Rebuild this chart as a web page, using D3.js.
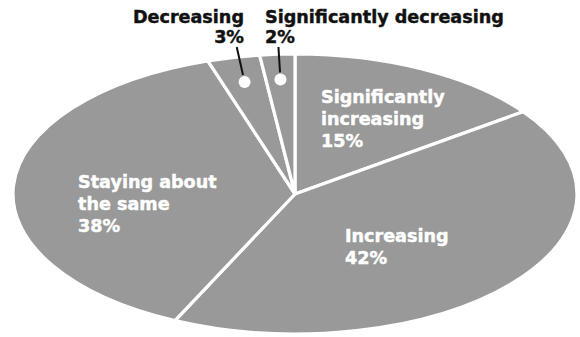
<!DOCTYPE html>
<html>
<head>
<meta charset="utf-8">
<script src="https://cdn.jsdelivr.net/npm/d3@7/dist/d3.min.js"></script>
<style>
  html, body { margin: 0; padding: 0; background: #fff; }
  svg { display: block; }
  text { font-family: "DejaVu Sans", sans-serif; font-weight: bold; font-size: 17.6px; stroke-width: 0.45px; stroke-linejoin: round; }
</style>
</head>
<body>
<svg id="chart" width="580" height="337"></svg>
<script>
// Survey shares, clockwise from 12 o'clock
const categories = ["Significantly increasing", "Increasing", "Staying about the same", "Decreasing", "Significantly decreasing"];
const values = [15, 42, 38, 3, 2];
const labelLines = [
  ["Significantly", "increasing", "15%"],
  ["Increasing", "42%"],
  ["Staying about", "the same", "38%"],
  ["Decreasing", "3%"],
  ["Significantly decreasing", "2%"]
];

const W = 580, H = 337;
const cx = 295, cy = 194;
const rx = 282, ry = 140;
const squash = ry / rx;

const svg = d3.select("#chart");

const data = categories.map((c, i) => ({ category: c, value: values[i], lines: labelLines[i] }));
const pie = d3.pie().sort(null).value(d => d.value);
const arcs = pie(data);
const arc = d3.arc().innerRadius(0).outerRadius(rx);

// Pie drawn as a circle, then flattened into an ellipse
const pieG = svg.append("g")
  .attr("transform", `translate(${cx},${cy}) scale(1,${squash})`);

pieG.selectAll("path.slice")
  .data(arcs)
  .join("path")
  .attr("class", "slice")
  .attr("d", arc)
  .attr("fill", "#999999")
  .attr("stroke", "#ffffff")
  .attr("stroke-width", 3.2)
  .attr("stroke-linejoin", "round")
  .attr("vector-effect", "non-scaling-stroke");

// Screen position of a point at fraction f of the radius along angle a
const pt = (a, f) => [cx + f * rx * Math.sin(a), cy - f * ry * Math.cos(a)];

// Labels inside the large slices
const inside = [
  { i: 0, x: 321, y: 103 },
  { i: 1, x: 345, y: 242 },
  { i: 2, x: 78, y: 188 }
];
inside.forEach(p => {
  const t = svg.append("text").attr("fill", "#ffffff").attr("stroke", "#ffffff").attr("x", p.x).attr("y", p.y);
  arcs[p.i].data.lines.forEach((ln, k) => {
    t.append("tspan").attr("x", p.x).attr("dy", k === 0 ? 0 : 21.8).text(ln);
  });
});

// Small slices: dot inside the slice, leader line up to the label
const outside = [
  { i: 3, anchor: "end", x: 244 },
  { i: 4, anchor: "start", x: 265 }
];
const dotR = 6;
const lineTopY = 47;
outside.forEach(p => {
  const a = arcs[p.i];
  const mid = (a.startAngle + a.endAngle) / 2;
  const [dx, dy] = pt(mid, 0.82);
  const ux = Math.sin(mid), uy = -Math.cos(mid);
  const y0 = dy - dotR - 1;
  const x0 = dx + ux * (y0 - dy) / uy;
  const x1 = dx + ux * (lineTopY - dy) / uy;
  svg.append("line")
    .attr("x1", x0).attr("y1", y0)
    .attr("x2", x1).attr("y2", lineTopY)
    .attr("stroke", "#111").attr("stroke-width", 2);
  svg.append("circle")
    .attr("cx", dx).attr("cy", dy).attr("r", dotR)
    .attr("fill", "#ffffff");
  const t = svg.append("text").attr("fill", "#111").attr("stroke", "#111").attr("text-anchor", p.anchor).attr("x", p.x).attr("y", 23);
  a.data.lines.forEach((ln, k) => {
    t.append("tspan").attr("x", p.x).attr("dy", k === 0 ? 0 : 20).text(ln);
  });
});
</script>
</body>
</html>
